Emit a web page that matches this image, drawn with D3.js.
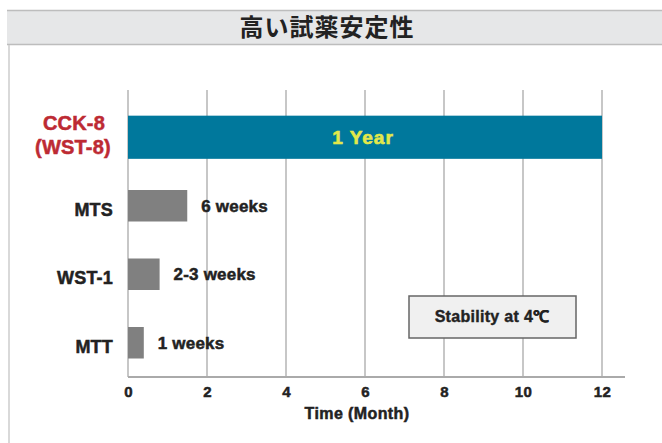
<!DOCTYPE html>
<html>
<head>
<meta charset="utf-8">
<script src="https://cdn.jsdelivr.net/npm/d3@7"></script>
<style>
  html, body { margin: 0; padding: 0; background: #fff; }
  svg { display: block; }
  text { font-family: "Liberation Sans", Arial, Helvetica, sans-serif; font-weight: bold; }
</style>
</head>
<body>
<svg id="chart" width="662" height="443"></svg>
<script>
const title = "高い試薬安定性";
const categories = ["CCK-8|(WST-8)", "MTS", "WST-1", "MTT"];
const months = [12, 1.5, 0.8, 0.4];
const durationLabels = ["1 Year", "6 weeks", "2-3 weeks", "1 weeks"];
const xTicks = [0, 2, 4, 6, 8, 10, 12];
const xTitle = "Time (Month)";
const noteText = "Stability at 4℃";

const svg = d3.select("#chart");
const W = 662, H = 443;
const heavy = (sel, color, w) => sel.attr("fill", color).attr("stroke", color)
  .attr("stroke-width", w).attr("paint-order", "stroke");

// Header band
svg.append("rect").attr("x", 7).attr("y", 10).attr("width", W - 7).attr("height", 35)
  .attr("fill", "#e6e7e8");
svg.append("line").attr("x1", 7).attr("x2", W).attr("y1", 10.5).attr("y2", 10.5)
  .attr("stroke", "#bdbdbd").attr("stroke-width", 1.5);
svg.append("line").attr("x1", 7).attr("x2", W).attr("y1", 44.5).attr("y2", 44.5)
  .attr("stroke", "#bdbdbd").attr("stroke-width", 1.5);
svg.append("line").attr("x1", 9).attr("x2", 9).attr("y1", 45).attr("y2", H)
  .attr("stroke", "#cccccc").attr("stroke-width", 1.5);
svg.append("text").attr("x", 327).attr("y", 36).attr("text-anchor", "middle")
  .style("font-family", "'Noto Sans CJK JP', sans-serif").style("font-weight", "bold")
  .attr("font-size", 24).attr("letter-spacing", 1).attr("fill", "#222").text(title);

// Scales
const x = d3.scaleLinear().domain([0, 12]).range([128, 602]);
const y = d3.scaleBand().domain(categories).range([103, 377]).padding(0);
const gridTop = 90, axisY = 377;

// Gridlines
svg.append("g").selectAll("line").data(xTicks).join("line")
  .attr("x1", d => x(d)).attr("x2", d => x(d))
  .attr("y1", gridTop).attr("y2", axisY)
  .attr("stroke", "#b5b5b5").attr("stroke-width", 1.5);

// X axis
const xAxis = d3.axisBottom(x).tickValues(xTicks).tickSize(0).tickPadding(9).tickFormat(d3.format("d"));
const gx = svg.append("g").attr("transform", `translate(0,${axisY})`).call(xAxis);
gx.select(".domain").remove();
heavy(gx.selectAll("text").attr("font-size", 15).attr("letter-spacing", 0.3), "#222", 0.5)
  .style("font-family", "'Liberation Sans', Arial, sans-serif").style("font-weight", "bold");
svg.append("line").attr("x1", x(0)).attr("x2", 625).attr("y1", axisY).attr("y2", axisY)
  .attr("stroke", "#aaaaaa").attr("stroke-width", 2);

heavy(svg.append("text").attr("x", 357).attr("y", 419).attr("text-anchor", "middle")
  .attr("font-size", 16).attr("letter-spacing", 0.4).text(xTitle), "#222", 0.5);

// Bars
const rows = categories.map((c, i) => ({ c, v: months[i], label: durationLabels[i], i }));
const barH = d => d.i === 0 ? y.bandwidth() * 0.63 : y.bandwidth() * 0.46;
const cy = d => y(d.c) + y.bandwidth() / 2;

svg.append("g").selectAll("rect").data(rows).join("rect")
  .attr("x", x(0)).attr("width", d => x(d.v) - x(0))
  .attr("y", d => cy(d) - barH(d) / 2).attr("height", d => barH(d))
  .attr("fill", d => d.i === 0 ? "#00789c" : "#808080");

// Value labels
rows.forEach(d => {
  if (d.i === 0) {
    heavy(svg.append("text").attr("x", (x(0) + x(d.v)) / 2 - 2).attr("y", cy(d) + 7)
      .attr("text-anchor", "middle").attr("font-size", 19).attr("letter-spacing", 1)
      .text(d.label), "#e3e84a", 0.6);
  } else {
    heavy(svg.append("text").attr("x", x(d.v) + 14).attr("y", cy(d) + 6)
      .attr("font-size", 17).attr("letter-spacing", 0.2).text(d.label), "#222", 0.5);
  }
});

// Category labels
rows.forEach(d => {
  const parts = d.c.split("|");
  if (parts.length > 1) {
    const t = heavy(svg.append("text").attr("text-anchor", "middle").attr("font-size", 20)
      .attr("letter-spacing", 0.2), "#bd2a33", 0.5);
    t.append("tspan").attr("x", 74).attr("y", cy(d) - 7).text(parts[0]);
    t.append("tspan").attr("x", 73).attr("y", cy(d) + 17).text(parts[1]);
  } else {
    heavy(svg.append("text").attr("x", 113).attr("y", cy(d) + 10).attr("text-anchor", "end")
      .attr("font-size", 18).attr("letter-spacing", 0.2).text(parts[0]), "#222", 0.5);
  }
});

// Note box
svg.append("rect").attr("x", 409).attr("y", 296).attr("width", 167).attr("height", 42)
  .attr("fill", "#f0f0f0").attr("stroke", "#666").attr("stroke-width", 1.5);
heavy(svg.append("text").attr("x", 492).attr("y", 322).attr("text-anchor", "middle")
  .attr("font-size", 16).attr("letter-spacing", 0.3).text(noteText), "#222", 0.4);
</script>
</body>
</html>
